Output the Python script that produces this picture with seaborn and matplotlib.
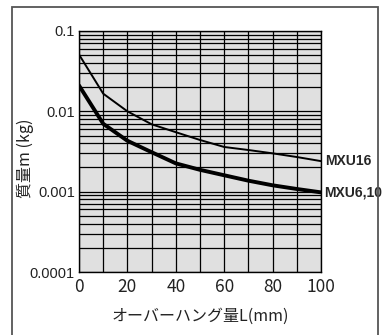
import matplotlib
matplotlib.use("Agg")
import matplotlib.pyplot as plt
import matplotlib.ticker as mticker
from matplotlib.patches import Rectangle
import seaborn as sns
import pandas as pd
import numpy as np

# overhang L (mm) and allowable mass m (kg)
overhang = [0, 10, 20, 30, 40, 50, 60, 70, 80, 90, 100]
mass_mxu16 = [0.051, 0.0166, 0.0100, 0.0069, 0.0055, 0.0044, 0.0036, 0.0033, 0.0030, 0.0027, 0.0024]
mass_mxu6_10 = [0.021, 0.0070, 0.0043, 0.0031, 0.00225, 0.00187, 0.0016, 0.00137, 0.0012, 0.00108, 0.00098]
series_labels = ["MXU16", "MXU6,10"]
y_ticks = [0.0001, 0.001, 0.01, 0.1]
y_tick_labels = ["0.0001", "0.001", "0.01", "0.1"]
x_ticks = [0, 20, 40, 60, 80, 100]


def main():
    sns.set_style("white")
    plt.rcParams['font.family'] = ['Noto Sans CJK JP', 'DejaVu Sans']

    df = pd.DataFrame({
        "L": overhang * 2,
        "m": mass_mxu16 + mass_mxu6_10,
        "series": [series_labels[0]] * len(overhang) + [series_labels[1]] * len(overhang),
    })

    fig = plt.figure(figsize=(3.83, 3.35), dpi=100)
    ax = fig.add_axes([79 / 383, 63 / 335, 242 / 383, 241 / 335])
    ax.set_facecolor("#e0e0e0")

    sns.lineplot(data=df, x="L", y="m", hue="series", size="series",
                 sizes={series_labels[0]: 1.4, series_labels[1]: 2.8},
                 palette={series_labels[0]: "black", series_labels[1]: "black"},
                 legend=False, ax=ax, zorder=3)

    ax.set_yscale("log")
    ax.set_xlim(0, 100)
    ax.set_ylim(0.0001, 0.1)

    narrow = ['Liberation Sans', 'DejaVu Sans']
    ax.set_yticks(y_ticks)
    ax.set_yticklabels(y_tick_labels, family=narrow, fontsize=10.5, color="#222222")
    ax.yaxis.set_minor_locator(mticker.LogLocator(base=10, subs=np.arange(2, 10)))
    ax.yaxis.set_minor_formatter(mticker.NullFormatter())
    ax.set_xticks(x_ticks)
    ax.set_xticks(range(10, 100, 20), minor=True)
    ax.set_xticklabels([str(v) for v in x_ticks], fontsize=12.5, color="#222222")

    ax.grid(which="both", axis="both", color="black", linewidth=0.9)
    ax.tick_params(which="both", length=0, pad=3)
    ax.tick_params(axis="x", pad=4)
    for s in ax.spines.values():
        s.set_color("black")
        s.set_linewidth(1.0)
    ax.set_axisbelow(True)

    ax.set_xlabel("")
    ax.set_ylabel("")
    fig.text(200 / 383, 1 - 316 / 335, "オーバーハング量L(mm)", ha="center", va="center",
             fontsize=11.5, color="#222222")
    fig.text(25 / 383, 1 - 158 / 335, "質量m (kg)", ha="center", va="center",
             rotation=90, fontsize=11.5, color="#222222")

    # series labels at the right end of each curve
    ax.annotate(series_labels[0], xy=(100, mass_mxu16[-1]), xytext=(3, 0),
                textcoords="offset points", va="center", ha="left",
                family=narrow, fontweight="bold", fontsize=10, annotation_clip=False)
    ax.annotate(series_labels[1], xy=(100, mass_mxu6_10[-1]), xytext=(2, 0),
                textcoords="offset points", va="center", ha="left",
                family=narrow, fontweight="bold", fontsize=10, annotation_clip=False)

    # outer frame
    fig.patches.append(Rectangle((12 / 383, -0.05), 366 / 383, 1.05 - 7 / 335,
                                 transform=fig.transFigure, fill=False,
                                 edgecolor="#555555", linewidth=1.3))

    fig.savefig("out.png", dpi=100)


if __name__ == '__main__':
    main()
